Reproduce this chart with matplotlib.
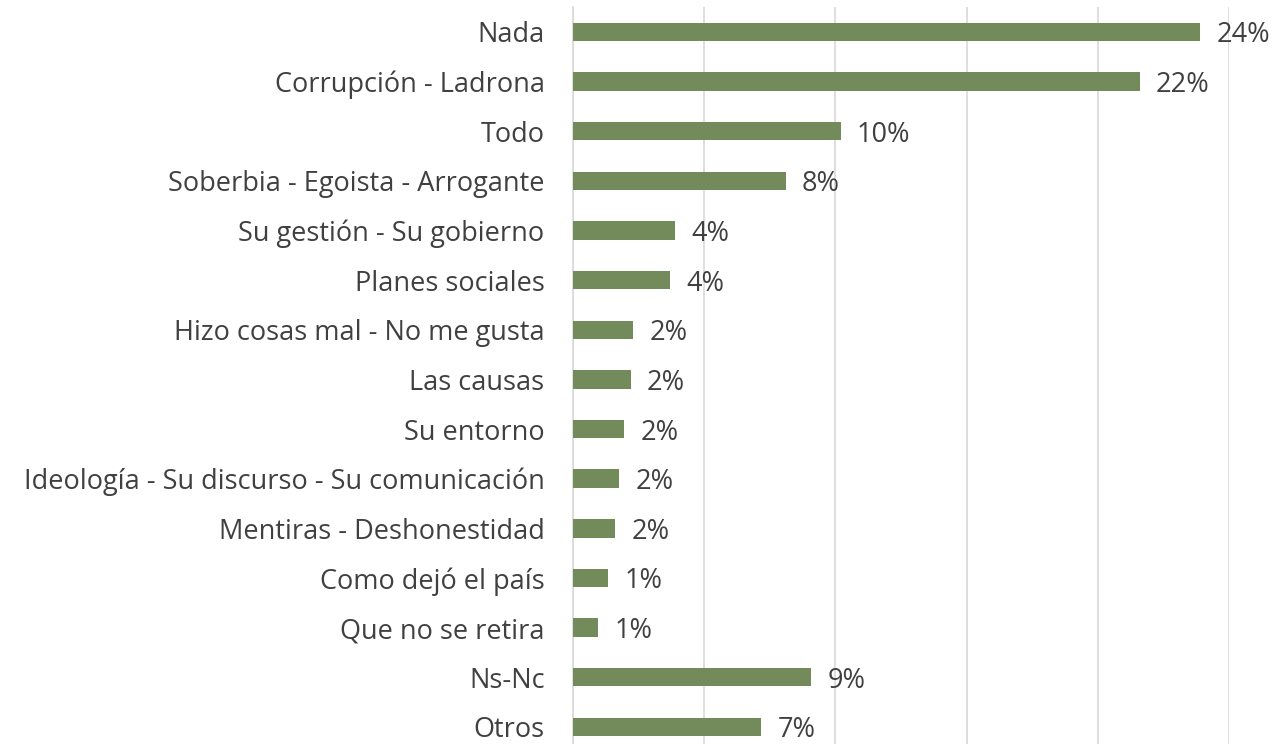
import matplotlib
matplotlib.use("Agg")
import matplotlib.pyplot as plt

plt.rcParams['font.family'] = ['Open Sans', 'DejaVu Sans']

# Data (top to bottom as shown)
categories = ["Nada", "Corrupción - Ladrona", "Todo", "Soberbia - Egoista - Arrogante",
              "Su gestión - Su gobierno", "Planes sociales", "Hizo cosas mal - No me gusta",
              "Las causas", "Su entorno", "Ideología - Su discurso - Su comunicación",
              "Mentiras - Deshonestidad", "Como dejó el país", "Que no se retira",
              "Ns-Nc", "Otros"]
values = [23.9, 21.6, 10.2, 8.1, 3.9, 3.7, 2.3, 2.2, 1.95, 1.76, 1.6, 1.34, 0.95, 9.08, 7.18]
value_labels = ["24%", "22%", "10%", "8%", "4%", "4%", "2%", "2%", "2%", "2%", "2%",
                "1%", "1%", "9%", "7%"]

bar_color = "#738B5B"
text_color = "#404040"
grid_color = "#D9D9D9"

W, H = 1276, 744
fig = plt.figure(figsize=(W / 100, H / 100), dpi=100)

# axes placed in pixel coordinates
left, right = 573, 1229
top = 7
axes_h = 15 * 49.65
ax = fig.add_axes([left / W, 1 - (top + axes_h) / H, (right - left) / W, axes_h / H])

y = list(range(len(categories)))
ax.barh(y, values, height=0.37, color=bar_color, zorder=3)

for yi, v, lab in zip(y, values, value_labels):
    ax.text(v + 0.62, yi, lab, va='center_baseline', ha='left', fontsize=19.5,
            color=text_color, clip_on=False)

ax.set_ylim(len(categories) - 0.5, -0.5)
ax.set_xlim(0, 25)
ax.set_yticks(y)
ax.set_yticklabels(categories, fontsize=19.5, color=text_color, va='center_baseline')
ax.tick_params(axis='y', length=0, pad=20.5)
ax.tick_params(axis='x', length=0, labelbottom=False)
ax.set_xticks([0, 5, 10, 15, 20, 25])
ax.grid(axis='x', color=grid_color, linewidth=1.2, zorder=0)
for s in ['top', 'right', 'bottom']:
    ax.spines[s].set_visible(False)
ax.spines['left'].set_color(grid_color)
ax.spines['left'].set_linewidth(1.2)

fig.savefig("out.png", dpi=100)
